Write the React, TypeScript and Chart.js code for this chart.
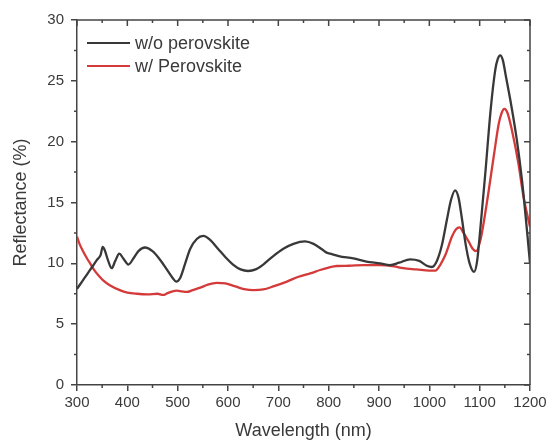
import React, { useEffect, useRef } from "react";
import { Chart, registerables } from "chart.js";

Chart.register(...registerables);

const seriesLabels = ["w/o perovskite", "w/ Perovskite"];
const seriesColors = ["#383838", "#d43a3a"];

const woWavelength = [
  300, 310, 320, 330, 340, 347, 351, 355, 362, 369, 376, 384, 392, 402, 412, 422, 435, 450, 465, 480,
  490, 497, 505, 515, 525, 538, 551, 565, 580, 595, 610, 625, 640, 655, 670, 690, 710, 730, 753, 770,
  785, 795, 803, 820, 849, 875, 902, 922, 940, 962, 980, 995, 1005, 1015, 1025, 1035, 1043, 1051, 1058,
  1065, 1072, 1080, 1089, 1095, 1101, 1111, 1122, 1131, 1136, 1141, 1146, 1152, 1161, 1174, 1184, 1194,
  1200,
];
const woReflectance = [
  7.9, 8.5, 9.1, 9.7, 10.3, 10.7, 11.35, 11.1, 10.2, 9.6, 10.2, 10.8, 10.4, 9.9, 10.4, 11.0, 11.3, 11.0,
  10.3, 9.4, 8.8, 8.5, 8.8, 10.0, 11.2, 12.0, 12.25, 11.9, 11.2, 10.5, 9.9, 9.5, 9.37, 9.5, 9.9, 10.6,
  11.2, 11.6, 11.8, 11.6, 11.2, 10.9, 10.8, 10.6, 10.4, 10.15, 10.0, 9.86, 10.05, 10.33, 10.2, 9.8, 9.7,
  10.2, 11.5, 13.6, 15.2, 16.0, 15.4, 13.6, 11.6, 10.0, 9.3, 10.2, 12.7, 17.3, 22.7, 25.9, 26.8, 27.1,
  26.7, 25.4, 23.4, 20.1, 16.85, 12.7, 10.0,
];

const wWavelength = [
  300, 305, 312, 320, 326, 335, 345, 352, 365, 385, 400, 419, 440, 460, 471, 480, 490, 498, 508, 518,
  530, 545, 560, 578, 595, 615, 635, 650, 670, 690, 717, 740, 765, 783, 800, 816, 840, 870, 900, 930,
  948, 975, 1000, 1012, 1022, 1032, 1045, 1053, 1060, 1068, 1078, 1086, 1093, 1102, 1114, 1128, 1138,
  1144, 1149, 1155, 1164, 1177, 1187, 1200,
];
const wReflectance = [
  12.2, 11.6, 11.0, 10.4, 10.0, 9.4, 8.9, 8.6, 8.2, 7.8, 7.6, 7.5, 7.45, 7.5, 7.4, 7.55, 7.7, 7.75, 7.7,
  7.65, 7.8, 8.0, 8.25, 8.4, 8.35, 8.1, 7.85, 7.8, 7.85, 8.1, 8.5, 8.9, 9.2, 9.45, 9.65, 9.78, 9.8,
  9.85, 9.85, 9.75, 9.6, 9.5, 9.4, 9.4, 9.9, 10.7, 12.2, 12.8, 12.96, 12.5, 11.8, 11.2, 11.0, 12.0,
  14.9, 18.8, 21.5, 22.4, 22.7, 22.4, 20.96, 18.2, 15.5, 13.0,
];

const xMin = 300;
const xMax = 1200;
const xStep = 100;
const yMin = 0;
const yMax = 30;
const yStep = 5;

const AXIS_COLOR = "#444444";
const TEXT_COLOR = "#3a3a3a";
const FONT = "'Liberation Sans', Arial, sans-serif";

const framePlugin = {
  id: "frameAndMinor",
  afterDraw(chart: any) {
    const { ctx, chartArea } = chart;
    const xs = chart.scales.x;
    const ys = chart.scales.y;
    const { left, right, top, bottom } = chartArea;
    ctx.save();
    ctx.strokeStyle = AXIS_COLOR;
    ctx.lineWidth = 1.5;
    ctx.beginPath();
    ctx.moveTo(left, top);
    ctx.lineTo(right, top);
    ctx.lineTo(right, bottom);
    ctx.stroke();

    const major = 6;
    const minor = 3;
    ctx.beginPath();
    const xt = xs.ticks.map((t: any) => t.value);
    xt.forEach((v: number, i: number) => {
      const px = xs.getPixelForValue(v);
      ctx.moveTo(px, top);
      ctx.lineTo(px, top + major);
      if (i < xt.length - 1) {
        const mp = xs.getPixelForValue((v + xt[i + 1]) / 2);
        ctx.moveTo(mp, top);
        ctx.lineTo(mp, top + minor);
        ctx.moveTo(mp, bottom);
        ctx.lineTo(mp, bottom + minor);
      }
    });
    const yt = ys.ticks.map((t: any) => t.value);
    yt.forEach((v: number, i: number) => {
      const py = ys.getPixelForValue(v);
      ctx.moveTo(right, py);
      ctx.lineTo(right - major, py);
      if (i < yt.length - 1) {
        const mp = ys.getPixelForValue((v + yt[i + 1]) / 2);
        ctx.moveTo(right, mp);
        ctx.lineTo(right - minor, mp);
        ctx.moveTo(left, mp);
        ctx.lineTo(left - minor, mp);
      }
    });
    ctx.stroke();

    // legend
    const lx0 = 87;
    const lx1 = 130;
    const rows = [43, 66];
    ctx.font = `18px ${FONT}`;
    ctx.textBaseline = "middle";
    ctx.textAlign = "left";
    chart.data.datasets.forEach((ds: any, i: number) => {
      const y = rows[i];
      ctx.strokeStyle = ds.borderColor;
      ctx.lineWidth = 2.2;
      ctx.beginPath();
      ctx.moveTo(lx0, y);
      ctx.lineTo(lx1, y);
      ctx.stroke();
      ctx.fillStyle = TEXT_COLOR;
      ctx.fillText(ds.label, 135, y + 1);
    });
    ctx.restore();
  },
};

export default function App() {
  const ref = useRef<HTMLCanvasElement | null>(null);
  useEffect(() => {
    if (!ref.current) return;
    const toPoints = (xs: number[], ys: number[]) => xs.map((x, i) => ({ x, y: ys[i] }));
    const chart = new Chart(ref.current, {
      type: "line",
      data: {
        datasets: [
          {
            label: seriesLabels[0],
            data: toPoints(woWavelength, woReflectance),
            borderColor: seriesColors[0],
            borderWidth: 2.3,
            pointRadius: 0,
            cubicInterpolationMode: "monotone",
          },
          {
            label: seriesLabels[1],
            data: toPoints(wWavelength, wReflectance),
            borderColor: seriesColors[1],
            borderWidth: 2.3,
            pointRadius: 0,
            cubicInterpolationMode: "monotone",
          },
        ],
      },
      options: {
        animation: false,
        responsive: false,
        devicePixelRatio: 1,
        layout: { padding: { top: 20, right: 16, left: 0, bottom: 0 } },
        plugins: { legend: { display: false }, tooltip: { enabled: false } },
        scales: {
          x: {
            type: "linear",
            min: xMin,
            max: xMax,
            afterFit: (s: any) => {
              s.height = 55;
              s.paddingLeft = 0;
              s.paddingRight = 0;
            },
            ticks: {
              stepSize: xStep,
              autoSkip: false,
              maxRotation: 0,
              padding: 3,
              color: TEXT_COLOR,
              font: { family: FONT, size: 15 },
              callback: (v: any) => String(v),
            },
            grid: {
              display: true,
              drawOnChartArea: false,
              drawTicks: true,
              tickLength: 6,
              color: AXIS_COLOR,
              lineWidth: 1.5,
            },
            border: { display: true, color: AXIS_COLOR, width: 1.5 },
            title: {
              display: true,
              text: "Wavelength (nm)",
              color: TEXT_COLOR,
              font: { family: FONT, size: 18, lineHeight: 1 },
              padding: { top: 0, bottom: 0 },
            },
          },
          y: {
            type: "linear",
            min: yMin,
            max: yMax,
            afterFit: (s: any) => {
              s.width = 77;
              s.paddingTop = 0;
              s.paddingBottom = 0;
            },
            ticks: {
              stepSize: yStep,
              padding: 7,
              color: TEXT_COLOR,
              font: { family: FONT, size: 15 },
            },
            grid: {
              display: true,
              drawOnChartArea: false,
              drawTicks: true,
              tickLength: 6,
              color: AXIS_COLOR,
              lineWidth: 1.5,
            },
            border: { display: true, color: AXIS_COLOR, width: 1.5 },
            title: {
              display: true,
              text: "Reflectance (%)",
              color: TEXT_COLOR,
              font: { family: FONT, size: 18, lineHeight: 1 },
              padding: { top: 12, bottom: 0 },
            },
          },
        },
      },
      plugins: [framePlugin],
    } as any);
    return () => chart.destroy();
  }, []);
  return (
    <div style={{ position: "absolute", left: 0, top: 0, width: 546, height: 440, background: "#fff" }}>
      <canvas ref={ref} width={546} height={440} style={{ display: "block" }} />
    </div>
  );
}
